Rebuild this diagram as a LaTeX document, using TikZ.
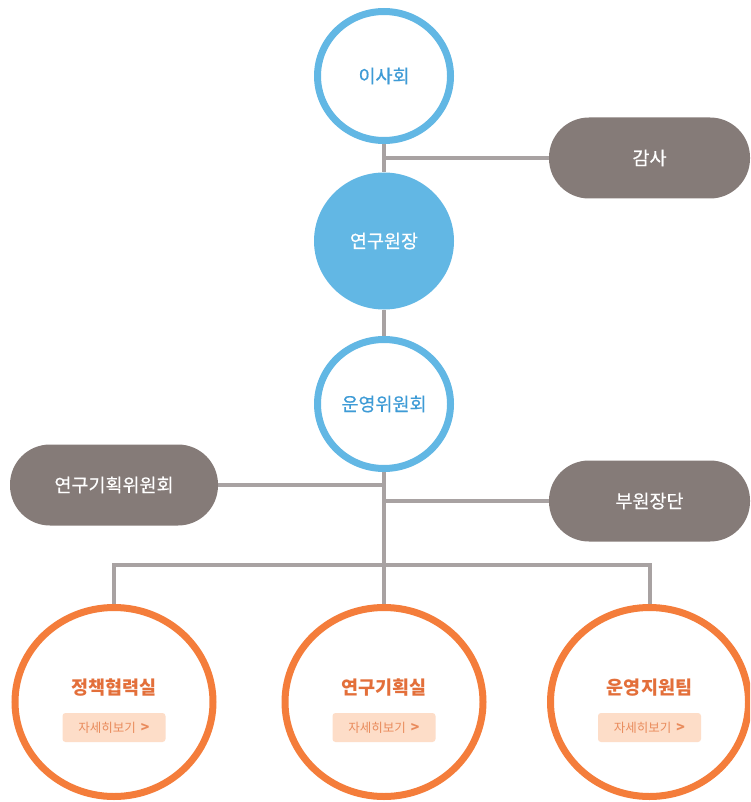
\documentclass[tikz,border=0pt]{standalone}
\usepackage{fontspec}
\setmainfont{Noto Sans CJK KR}
\newfontfamily\medfont[FakeBold=0.5]{Noto Sans CJK KR}
\usetikzlibrary{shapes.geometric,backgrounds}
\definecolor{skyblue}{HTML}{62B7E4}
\definecolor{skytext}{HTML}{3E9BD6}
\definecolor{pillgray}{HTML}{857B78}
\definecolor{linkgray}{HTML}{A8A2A2}
\definecolor{deptorange}{HTML}{F47D3B}
\definecolor{depttext}{HTML}{E36F3A}
\definecolor{btnfill}{HTML}{FDDDC8}
\definecolor{btntext}{HTML}{E98B5C}
\tikzset{
  board/.style={ellipse, draw=skyblue, line width=7pt, fill=white,
    minimum width=133pt, minimum height=129pt, inner sep=0pt,
    text=skytext, font=\medfont\fontsize{18.5}{20}\selectfont},
  chief/.style={ellipse, fill=skyblue, minimum width=140pt,
    minimum height=137pt, inner sep=0pt, text=white,
    font=\medfont\fontsize{18.5}{20}\selectfont},
  pill/.style={rectangle, rounded corners=40pt, fill=pillgray,
    minimum height=81pt, inner sep=0pt, text=white,
    font=\medfont\fontsize{18.5}{20}\selectfont},
  dept/.style={ellipse, draw=deptorange, line width=7pt, fill=white,
    minimum width=198pt, minimum height=189pt, inner sep=0pt},
  deptname/.style={text=depttext, font=\fontsize{18.5}{20}\selectfont\bfseries},
  more/.style={rectangle, rounded corners=3pt, fill=btnfill,
    minimum width=103pt, minimum height=29pt, inner sep=0pt,
    text=btntext, font=\fontsize{12.5}{14}\selectfont},
  link/.style={draw=linkgray, line width=4pt}
}
\begin{document}
\begin{tikzpicture}[x=1pt,y=-1pt]
\useasboundingbox (0,0) rectangle (750,802);
\clip (0,0) rectangle (750,802);
% Top of the chart
\node[board] (board) at (384,76) {이사회};
\node[chief] (chief) at (384,241) {연구원장};
\node[board] (steer) at (384,404) {운영위원회};
\node[pill, minimum width=201pt] (audit) at (649.5,158) {감사};
\node[pill, minimum width=208pt] (plancom) at (114,485) {연구기획위원회};
\node[pill, minimum width=201pt] (vice) at (649.5,501) {부원장단};
% Departments
\foreach \name/\x/\label in {policy/114/정책협력실, plan/384/연구기획실, ops/649.5/운영지원팀}{
  \node[dept] (\name) at (\x,702) {};
  \node[deptname] (\name-t) at (\x,688) {\label};
  \node[more] (\name-b) at (\x,727.5) {자세히보기\hspace{5pt}{\bfseries\fontsize{14}{14}\selectfont >}};
}
% Connectors
\coordinate (busL) at (114,565);
\coordinate (busR) at (649.5,565);
\begin{scope}[on background layer]
\draw[link] (board) -- (chief);
\draw[link] (audit.west -| board) -- (audit.west);
\draw[link] (chief) -- (steer);
\draw[link] (steer) -- (plan);
\draw[link] (plancom.east) -- (plancom.east -| steer);
\draw[link] (vice.west) -- (vice.west -| steer);
\draw[link] (policy) -- (busL) -- (busR) -- (ops);
\end{scope}
\end{tikzpicture}
\end{document}
